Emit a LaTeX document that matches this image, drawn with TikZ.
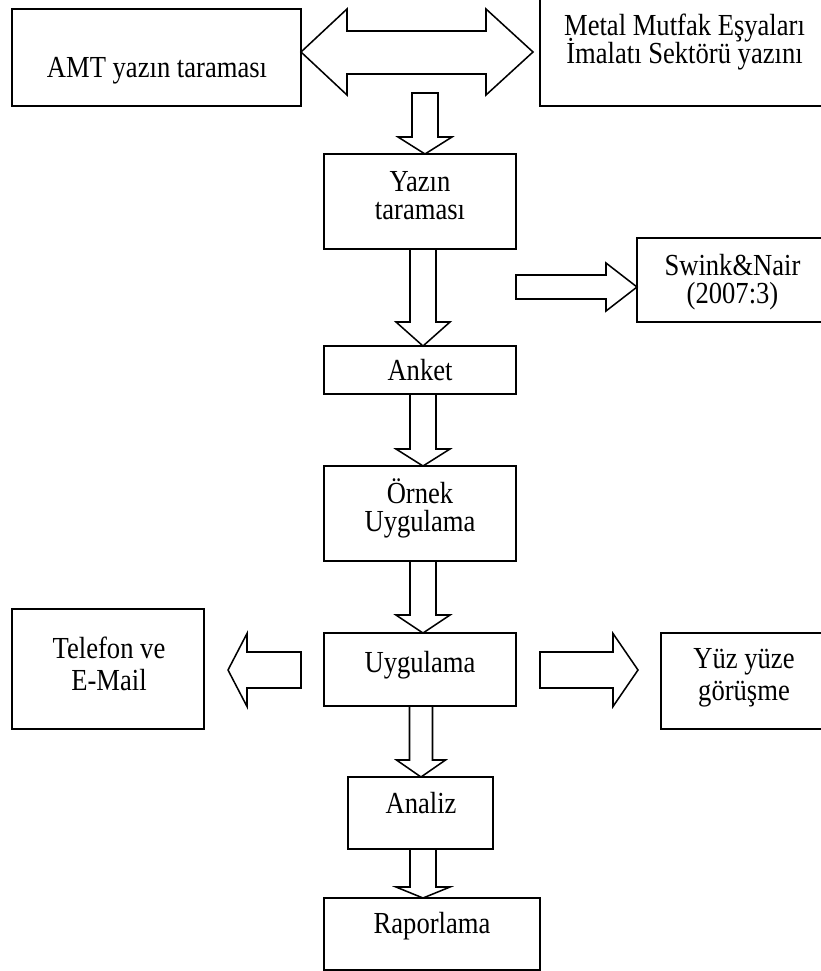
\documentclass[tikz,border=0pt]{standalone}
\usepackage{fontspec}
\usepackage{graphicx}
\setmainfont{Liberation Serif}
\usetikzlibrary{calc}
\tikzset{
  box/.style 2 args={draw, line width=1.4pt, minimum width=#1*0.75pt, minimum height=#2*0.75pt, inner sep=0pt, outer sep=0pt},
  txt/.style={anchor=base, inner sep=0pt, font=\fontsize{19.95}{24}\selectfont},
  blk/.style={draw, line width=1.15pt, line join=miter, fill=white}
}
\newcommand{\tl}[1]{\scalebox{1}[1.15]{#1}}
\newcommand{\dnarrow}[5]{%
  \draw[blk] ($(#1)+(-#3,0)$) -- ($(#2)+(-#3,-#5)$) -- ($(#2)+(-#4,-#5)$) -- (#2)
    -- ($(#2)+(#4,-#5)$) -- ($(#2)+(#3,-#5)$) -- ($(#1)+(#3,0)$) -- cycle;}
\newcommand{\rtarrow}[5]{%
  \draw[blk] ($(#1)+(0,-#3)$) -- ($(#2)+(-#5,-#3)$) -- ($(#2)+(-#5,-#4)$) -- (#2)
    -- ($(#2)+(-#5,#4)$) -- ($(#2)+(-#5,#3)$) -- ($(#1)+(0,#3)$) -- cycle;}
\newcommand{\ltarrow}[5]{%
  \draw[blk] ($(#1)+(0,-#3)$) -- ($(#2)+(#5,-#3)$) -- ($(#2)+(#5,-#4)$) -- (#2)
    -- ($(#2)+(#5,#4)$) -- ($(#2)+(#5,#3)$) -- ($(#1)+(0,#3)$) -- cycle;}
\begin{document}
\begin{tikzpicture}[x=0.75pt,y=-0.75pt]
\useasboundingbox (0,0) rectangle (821,971);
\clip (0,0) rectangle (821,971);
\fill[white] (0,0) rectangle (821,971);

% boxes
\node[box={289}{97}]  (amt)    at (156.5,57.5) {};
\node[box={290}{116}] (metal)  at (685,48) {};
\node[box={192}{95}]  (yazin)  at (420,201.5) {};
\node[box={193}{84}]  (swink)  at (733.5,280) {};
\node[box={192}{48}]  (anket)  at (420,370) {};
\node[box={192}{95}]  (ornek)  at (420,513.5) {};
\node[box={192}{73}]  (uyg)    at (420,669.5) {};
\node[box={192}{120}] (tel)    at (108,669) {};
\node[box={169}{96}]  (yuz)    at (745.5,681) {};
\node[box={145}{72}]  (analiz) at (420.5,813) {};
\node[box={216}{72}]  (rapor)  at (432,934) {};

% texts
\node[txt] (t-amt)    at (157,77) {\tl{AMT yazın taraması}};
\node[txt] (t-metal1) at (684.5,35) {\tl{Metal Mutfak Eşyaları}};
\node[txt] (t-metal2) at (684.5,63) {\tl{İmalatı Sektörü yazını}};
\node[txt] (t-yazin1) at (420,191) {\tl{Yazın}};
\node[txt] (t-yazin2) at (420,219) {\tl{taraması}};
\node[txt] (t-swink1) at (732.5,275) {\tl{Swink\&Nair}};
\node[txt] (t-swink2) at (732.5,303) {\tl{(2007:3)}};
\node[txt] (t-anket)  at (420,380) {\tl{Anket}};
\node[txt] (t-ornek1) at (420,503) {\tl{Örnek}};
\node[txt] (t-ornek2) at (420,531) {\tl{Uygulama}};
\node[txt] (t-uyg)    at (420,672) {\tl{Uygulama}};
\node[txt] (t-tel1)   at (109,658) {\tl{Telefon ve}};
\node[txt] (t-tel2)   at (109,690) {\tl{E-Mail}};
\node[txt] (t-yuz1)   at (744,668) {\tl{Yüz yüze}};
\node[txt] (t-yuz2)   at (744,700) {\tl{görüşme}};
\node[txt] (t-analiz) at (421,813) {\tl{Analiz}};
\node[txt] (t-rapor)  at (432,933) {\tl{Raporlama}};

% double arrow between AMT and Metal
\coordinate (dl) at (amt.east |- 0,52);
\coordinate (dr) at (533,52);
\draw[blk] (dl) -- ($(dl)+(46,-43)$) -- ($(dl)+(46,-21)$) -- ($(dr)+(-47,-21)$) -- ($(dr)+(-47,-43)$)
  -- (dr) -- ($(dr)+(-47,43)$) -- ($(dr)+(-47,22)$) -- ($(dl)+(46,22)$) -- ($(dl)+(46,43)$) -- cycle;

% vertical block arrows
\coordinate (col) at (423,0);
\coordinate (col2) at (421,0);
\coordinate (a0s) at (425,93);
\coordinate (a0t) at (yazin.north -| a0s);
\dnarrow{a0s}{a0t}{13}{27}{17}
\coordinate (a1s) at (yazin.south -| col);
\coordinate (a1t) at (anket.north -| col);
\dnarrow{a1s}{a1t}{13}{27}{24}
\coordinate (a2s) at (anket.south -| col);
\coordinate (a2t) at (ornek.north -| col);
\dnarrow{a2s}{a2t}{13}{27}{17}
\coordinate (a3s) at (ornek.south -| col);
\coordinate (a3t) at (uyg.north -| col);
\dnarrow{a3s}{a3t}{13}{27}{18}
\coordinate (a4s) at (uyg.south -| col2);
\coordinate (a4t) at (analiz.north -| col2);
\dnarrow{a4s}{a4t}{11.5}{24.5}{17}
\coordinate (a5s) at (analiz.south -| col);
\coordinate (a5t) at (rapor.north -| col);
\dnarrow{a5s}{a5t}{13}{27}{11}

% horizontal block arrows
\coordinate (swt) at (swink.west |- 0,287);
\coordinate (sws) at (yazin.east |- swt);
\rtarrow{sws}{swt}{12}{24}{31}
\coordinate (ls) at (301,670);
\coordinate (lt) at (228,670);
\ltarrow{ls}{lt}{18}{36.5}{19}
\coordinate (rs) at (540,670);
\coordinate (rt) at (638,670);
\rtarrow{rs}{rt}{18}{36.5}{25}
\end{tikzpicture}
\end{document}
